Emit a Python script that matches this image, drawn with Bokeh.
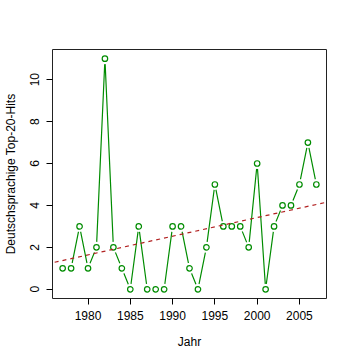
import numpy as np
from bokeh.plotting import figure
from bokeh.models import Range1d, FixedTicker, Slope, ColumnDataSource
from bokeh.embed import file_html
from bokeh.resources import INLINE

years = list(range(1977, 2008))
hits = [1, 1, 3, 1, 2, 11, 2, 1, 0, 3, 0, 0, 0, 3, 3, 1, 0, 2, 5, 3, 3, 3, 2, 6, 0, 3, 4, 4, 5, 7, 5]
x_ticks = [1980, 1985, 1990, 1995, 2000, 2005]
y_ticks = [0, 2, 4, 6, 8, 10]

GREEN = "#008C00"
RED = "#B22222"
FONT = "Liberation Sans"

xlo, xhi = min(years), max(years)
ylo, yhi = min(hits), max(hits)
xp = 0.04 * (xhi - xlo)
yp = 0.04 * (yhi - ylo)

p = figure(width=344, height=352, output_backend="svg", toolbar_location=None,
           x_range=Range1d(xlo - xp, xhi + xp), y_range=Range1d(ylo - yp, yhi + yp),
           min_border_left=41, min_border_right=18, min_border_top=49, min_border_bottom=54)

p.xgrid.visible = False
p.ygrid.visible = False
p.outline_line_color = "#222222"
p.outline_line_width = 1
p.background_fill_color = "white"
p.border_fill_color = "white"

src = ColumnDataSource(dict(x=years, y=hits))
p.line("x", "y", source=src, line_color=GREEN, line_width=1.2)
p.scatter("x", "y", source=src, size=11, fill_color="white", line_color=None)
p.scatter("x", "y", source=src, size=5.5, fill_color=None, line_color=GREEN, line_width=1.2)

m, b = np.polyfit(np.array(years, dtype=float), np.array(hits, dtype=float), 1)
p.add_layout(Slope(gradient=float(m), y_intercept=float(b), line_color=RED,
                   line_dash="4 4", line_width=1.2))

for ax in (p.xaxis[0], p.yaxis[0]):
    ax.axis_line_color = None
    ax.major_tick_in = 0
    ax.major_tick_out = 6
    ax.minor_tick_in = 0
    ax.minor_tick_out = 0
    ax.major_tick_line_color = "black"
    ax.major_label_text_font = FONT
    ax.major_label_text_font_size = "12px"
    ax.major_label_text_color = "black"
    ax.axis_label_text_font = FONT
    ax.axis_label_text_font_size = "12px"
    ax.axis_label_text_font_style = "normal"
    ax.axis_label_text_color = "black"

p.xaxis.ticker = FixedTicker(ticks=x_ticks)
p.yaxis.ticker = FixedTicker(ticks=y_ticks)
p.xaxis.axis_label = "Jahr"
p.yaxis.axis_label = "Deutschsprachige Top-20-Hits"
p.yaxis.major_label_orientation = "vertical"
p.xaxis.major_label_standoff = 6
p.yaxis.major_label_standoff = 7
p.xaxis.axis_label_standoff = 12
p.yaxis.axis_label_standoff = 10

open("out.html", "w").write(file_html(p, INLINE))
